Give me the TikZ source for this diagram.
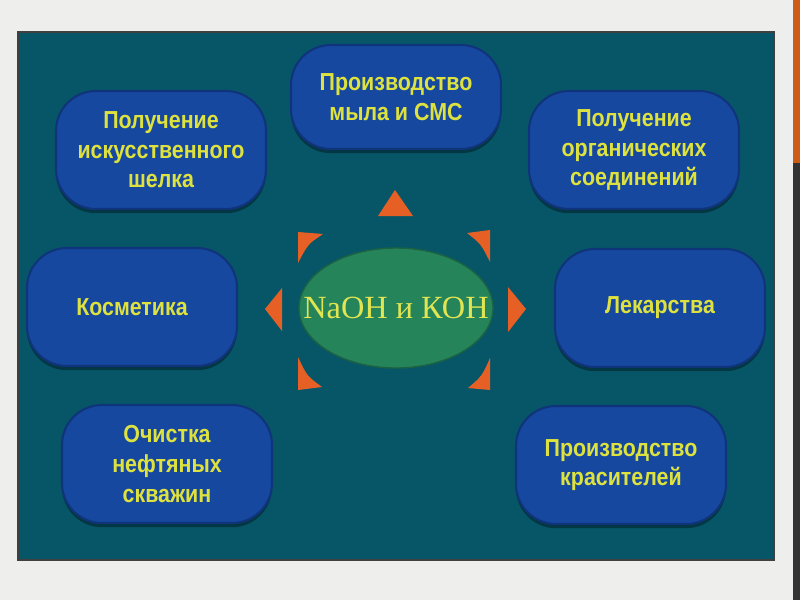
\documentclass[tikz,border=0pt]{standalone}
\usepackage{fontspec}
\setmainfont{Liberation Serif}
\newfontfamily\fontscatola{Liberation Sans}[FakeStretch=0.87]
\usepackage{tikz}
\usetikzlibrary{shapes,shadows}

\definecolor{sfondo}{RGB}{238,238,236}
\definecolor{pannello}{RGB}{6,86,104}
\definecolor{blu}{RGB}{22,72,160}
\definecolor{bluscuro}{RGB}{16,52,122}
\definecolor{giallo}{RGB}{222,226,62}
\definecolor{verde}{RGB}{38,132,90}
\definecolor{arancio}{RGB}{230,96,38}
\definecolor{striscia}{RGB}{204,92,22}

\begin{document}
\begin{tikzpicture}[x=0.025cm, y=-0.025cm, semithick]

%====Definizione stile scatole================================================

	\tikzstyle{scatola}=[rounded corners=1cm, fill=blu, draw=bluscuro, line width=1.5pt, minimum width=5.25cm, minimum height=2.95cm, text=giallo, align=center, font=\fontscatola\bfseries\fontsize{17.5}{21}\selectfont, drop shadow={shadow xshift=0pt, shadow yshift=-3pt, fill=black, opacity=0.35}]
	\tikzstyle{centro}=[ellipse, fill=verde, draw=verde!75!black, line width=1pt, minimum width=4.85cm, minimum height=3cm, inner sep=0pt]
	\tikzstyle{scritta}=[text=giallo!90!white, font=\fontsize{23}{26}\selectfont]
	\tikzstyle{punta}=[fill=arancio, draw=none]

%====Sfondo e pannello=======================================================

	\useasboundingbox (0,0) rectangle (800,600);
	\fill[sfondo] (0,0) rectangle (800,600);
	\fill[striscia] (793,0) rectangle (800,163);
	\fill[black!80] (793,163) rectangle (800,600);
	\draw[fill=pannello, draw=black!75, line width=1pt] (18,32) rectangle (774,560);

%====Definizione nodi e posizione============================================

	\node[centro, label={[scritta]center:NaOH и КОН}] (alcali) at (396,308) {};
	\node[scatola, minimum height=2.6cm]    (sapone)    at (396,97)  {Производство\\мыла и СМС};
	\node[scatola]                          (seta)      at (161,150) {Получение\\искусственного\\шелка};
	\node[scatola]                          (organici)  at (634,150) {Получение\\органических\\соединений};
	\node[scatola]                          (cosmetica) at (132,307) {Косметика};
	\node[scatola]                          (farmaci)   at (660,308) {Лекарства};
	\node[scatola]                          (pozzi)     at (167,464) {Очистка\\нефтяных\\скважин};
	\node[scatola]                          (coloranti) at (621,465) {Производство\\красителей};

%====Punte arancioni attorno al centro=======================================

	\fill[punta] (395,190) -- (413,216) -- (378,216) -- cycle;
	\fill[punta] (298,232) -- (323,234) .. controls (308,244) .. (298,263) -- cycle;
	\fill[punta] (490,230) -- (490,262) .. controls (481,244) .. (467,233) -- cycle;
	\fill[punta] (282,288) -- (265,309) -- (282,331) -- cycle;
	\fill[punta] (508,287) -- (526,309) -- (508,332) -- cycle;
	\fill[punta] (298,357) -- (298,390) -- (322,387) .. controls (307,376) .. (298,357) -- cycle;
	\fill[punta] (490,358) -- (490,390) -- (468,388) .. controls (482,376) .. (490,358) -- cycle;

\end{tikzpicture}
\end{document}
